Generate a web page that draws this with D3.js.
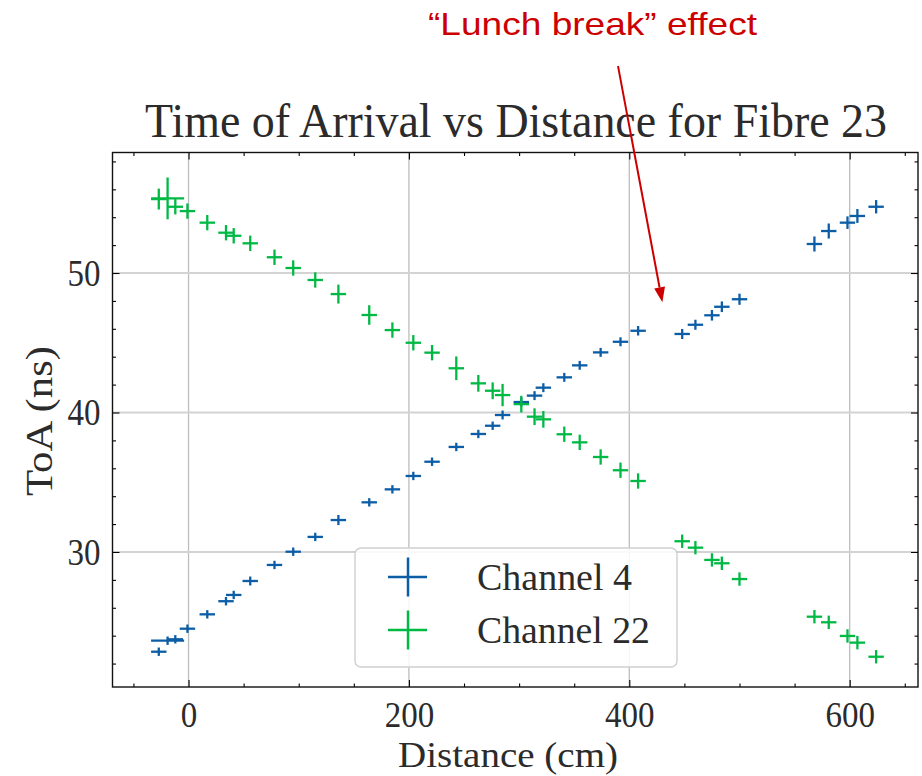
<!DOCTYPE html>
<html>
<head>
<meta charset="utf-8">
<script src="https://cdn.jsdelivr.net/npm/d3@7"></script>
<style>
  html, body { margin: 0; padding: 0; background: #ffffff; }
  svg { display: block; }
</style>
</head>
<body>
<svg id="chart" width="922" height="776"></svg>
<script>
// ---------------- data ----------------
const distance = [-27, -19, -12, -1, 17, 34, 41, 56, 78, 95, 115, 136, 164, 185, 204, 221, 243, 263, 276, 285,
                  302, 314, 322, 341, 355, 374, 392, 408, 448, 460, 475, 484, 500, 568, 581, 598, 607, 624];
const toaCh4  = [22.85, 23.64, 23.74, 24.50, 25.53, 26.47, 26.92, 27.92, 29.07, 30.02, 31.08, 32.29, 33.56, 34.49,
                 35.45, 36.47, 37.53, 38.46, 39.05, 39.82, 40.75, 41.21, 41.78, 42.52, 43.38, 44.31, 45.07, 45.86,
                 45.63, 46.29, 46.97, 47.58, 48.12, 52.08, 53.01, 53.61, 54.09, 54.75];
const toaCh22 = [55.30, 55.35, 54.75, 54.44, 53.61, 52.89, 52.67, 52.13, 51.13, 50.36, 49.50, 48.49, 46.99, 45.91,
                 45.00, 44.29, 43.17, 42.09, 41.56, 41.25, 40.60, 39.70, 39.51, 38.44, 37.86, 36.81, 35.86, 35.09,
                 30.77, 30.31, 29.43, 29.19, 28.06, 25.36, 24.96, 23.98, 23.50, 22.49];
const distErr = [7, 15, 7, 7, 7, 7, 7, 7, 7, 7, 7, 7, 7, 7, 7, 7, 7, 7, 7, 7,
                 7, 7, 7, 7, 7, 7, 7, 7, 7, 7, 7, 7, 7, 7, 7, 7, 7, 7];
const errCh4  = [0.30, 0.30, 0.30, 0.30, 0.30, 0.30, 0.30, 0.32, 0.30, 0.30, 0.30, 0.36, 0.30, 0.30,
                 0.30, 0.30, 0.30, 0.30, 0.30, 0.32, 0.32, 0.32, 0.32, 0.32, 0.32, 0.32, 0.32, 0.34,
                 0.36, 0.36, 0.38, 0.38, 0.40, 0.54, 0.54, 0.45, 0.50, 0.48];
const errCh22 = [0.75, 1.50, 0.55, 0.55, 0.55, 0.55, 0.55, 0.55, 0.55, 0.55, 0.55, 0.68, 0.70, 0.55,
                 0.55, 0.55, 0.85, 0.60, 0.60, 0.80, 0.60, 0.60, 0.60, 0.55, 0.55, 0.55, 0.55, 0.55,
                 0.48, 0.48, 0.48, 0.48, 0.48, 0.48, 0.48, 0.48, 0.48, 0.48];
const seriesNames = ["Channel 4", "Channel 22"];
const xTicksMajor = [0, 200, 400, 600];
const yTicksMajor = [30, 40, 50];
const titleText = "Time of Arrival vs Distance for Fibre 23";
const xLabelText = "Distance (cm)";
const yLabelText = "ToA (ns)";
const noteText = "\u201CLunch break\u201D effect";
const noteTarget = [430, 47.9];   // data coords of arrow tip

// ---------------- layout ----------------
const colors = ["#0C5DA5", "#00B945"];
const serif = "'Liberation Serif', 'Times New Roman', serif";
const sans = "'Liberation Sans', Arial, sans-serif";
const textCol = "#2b2b2b";
const L = 112.5, R = 918, T = 152.5, B = 687;

const svg = d3.select("#chart");
const x = d3.scaleLinear().domain([-69, 662]).range([L, R]);
const y = d3.scaleLinear().domain([20.32, 58.64]).range([B, T]);

const xMinor = d3.range(-50, 661, 50).filter(v => !xTicksMajor.includes(v));
const yMinor = d3.range(22, 58.6, 2).filter(v => !yTicksMajor.includes(v));

// grid
const grid = svg.append("g");
grid.selectAll("line.gx").data(xTicksMajor).join("line")
  .attr("x1", d => x(d)).attr("x2", d => x(d)).attr("y1", T).attr("y2", B)
  .attr("stroke", "#bdbdbd").attr("stroke-width", 1.3);
grid.selectAll("line.gy").data(yTicksMajor).join("line")
  .attr("x1", L).attr("x2", R).attr("y1", d => y(d)).attr("y2", d => y(d))
  .attr("stroke", "#d3d3d3").attr("stroke-width", 1.8);

// error bar data
const series = [
  { name: seriesNames[0], color: colors[0], pts: distance.map((d, i) => ({ x: d, y: toaCh4[i], xe: distErr[i], ye: errCh4[i] })) },
  { name: seriesNames[1], color: colors[1], pts: distance.map((d, i) => ({ x: d, y: toaCh22[i], xe: distErr[i], ye: errCh22[i] })) }
];

series.forEach(s => {
  const g = svg.append("g").attr("stroke", s.color).attr("stroke-width", 2.3);
  g.selectAll("line.h").data(s.pts).join("line").attr("class", "h")
    .attr("x1", d => x(d.x - d.xe)).attr("x2", d => x(d.x + d.xe))
    .attr("y1", d => y(d.y)).attr("y2", d => y(d.y));
  g.selectAll("line.v").data(s.pts).join("line").attr("class", "v")
    .attr("x1", d => x(d.x)).attr("x2", d => x(d.x))
    .attr("y1", d => y(d.y - d.ye)).attr("y2", d => y(d.y + d.ye));
});

// axes (inward ticks on all four sides)
function styleAxis(g) {
  g.select(".domain").remove();
  g.selectAll(".tick line").attr("stroke", "#000").attr("stroke-width", 1.1);
}
const fs = 37;
const axB = svg.append("g").attr("transform", `translate(0,${B})`)
  .call(d3.axisBottom(x).tickValues(xTicksMajor).tickSizeInner(-7).tickSizeOuter(0).tickFormat(d3.format("d")));
axB.call(styleAxis);
axB.selectAll(".tick text").attr("font-family", serif).attr("font-size", 36).attr("fill", textCol)
  .attr("y", 0).attr("dy", 40)
  .attr("textLength", function(d) { return String(d).length * 16.5; })
  .attr("lengthAdjust", "spacingAndGlyphs");
svg.append("g").attr("transform", `translate(0,${B})`)
  .call(d3.axisBottom(x).tickValues(xMinor).tickSizeInner(-3.5).tickSizeOuter(0).tickFormat(""))
  .call(styleAxis);
svg.append("g").attr("transform", `translate(0,${T})`)
  .call(d3.axisTop(x).tickValues(xTicksMajor).tickSizeInner(-7).tickSizeOuter(0).tickFormat(""))
  .call(styleAxis);
svg.append("g").attr("transform", `translate(0,${T})`)
  .call(d3.axisTop(x).tickValues(xMinor).tickSizeInner(-3.5).tickSizeOuter(0).tickFormat(""))
  .call(styleAxis);

const axL = svg.append("g").attr("transform", `translate(${L},0)`)
  .call(d3.axisLeft(y).tickValues(yTicksMajor).tickSizeInner(-7).tickSizeOuter(0).tickPadding(12).tickFormat(d3.format("d")));
axL.call(styleAxis);
axL.selectAll(".tick text").attr("font-family", serif).attr("font-size", fs).attr("fill", textCol)
  .attr("dy", 12.5)
  .attr("textLength", function(d) { return String(d).length * 16.5; })
  .attr("lengthAdjust", "spacingAndGlyphs");
svg.append("g").attr("transform", `translate(${L},0)`)
  .call(d3.axisLeft(y).tickValues(yMinor).tickSizeInner(-3.5).tickSizeOuter(0).tickFormat(""))
  .call(styleAxis);
svg.append("g").attr("transform", `translate(${R},0)`)
  .call(d3.axisRight(y).tickValues(yTicksMajor).tickSizeInner(-7).tickSizeOuter(0).tickFormat(""))
  .call(styleAxis);
svg.append("g").attr("transform", `translate(${R},0)`)
  .call(d3.axisRight(y).tickValues(yMinor).tickSizeInner(-3.5).tickSizeOuter(0).tickFormat(""))
  .call(styleAxis);

// frame
svg.append("rect").attr("x", L).attr("y", T).attr("width", R - L).attr("height", B - T)
  .attr("fill", "none").attr("stroke", "#111").attr("stroke-width", 1.4);

// legend
const lg = svg.append("g").attr("transform", "translate(355,548)");
lg.append("rect").attr("width", 322).attr("height", 119).attr("rx", 6)
  .attr("fill", "#fff").attr("fill-opacity", 0.85).attr("stroke", "#cfcfcf").attr("stroke-width", 1.4);
series.forEach((s, i) => {
  const cy = 29 + i * 53;
  lg.append("line").attr("x1", 33).attr("x2", 72).attr("y1", cy).attr("y2", cy)
    .attr("stroke", s.color).attr("stroke-width", 2.5);
  lg.append("line").attr("x1", 53).attr("x2", 53).attr("y1", cy - 19.5).attr("y2", cy + 19.5)
    .attr("stroke", s.color).attr("stroke-width", 2.5);
  lg.append("text").attr("x", 122).attr("y", cy + 13)
    .attr("font-family", serif).attr("font-size", fs).attr("fill", textCol)
    .attr("textLength", i === 0 ? 155 : 173).attr("lengthAdjust", "spacingAndGlyphs")
    .text(s.name);
});

// title & axis labels
svg.append("text").attr("x", 145).attr("y", 137)
  .attr("font-family", serif).attr("font-size", 48).attr("fill", textCol)
  .attr("textLength", 742).attr("lengthAdjust", "spacingAndGlyphs")
  .text(titleText);
svg.append("text").attr("x", 398).attr("y", 767)
  .attr("font-family", serif).attr("font-size", 36).attr("fill", textCol)
  .attr("textLength", 220).attr("lengthAdjust", "spacingAndGlyphs")
  .text(xLabelText);
svg.append("text").attr("transform", "translate(52,496) rotate(-90)")
  .attr("font-family", serif).attr("font-size", fs).attr("fill", textCol)
  .attr("textLength", 150).attr("lengthAdjust", "spacingAndGlyphs")
  .text(yLabelText);

// annotation
const red = "#cc0000";
svg.append("text").attr("x", 428).attr("y", 35)
  .attr("font-family", sans).attr("font-size", 32).attr("fill", red)
  .attr("textLength", 329).attr("lengthAdjust", "spacingAndGlyphs")
  .text(noteText);
const tip = [x(noteTarget[0]), y(noteTarget[1])];
const start = [618, 66];
const ang = Math.atan2(tip[1] - start[1], tip[0] - start[0]);
const headLen = 15, headW = 5.5;
const base = [tip[0] - headLen * Math.cos(ang), tip[1] - headLen * Math.sin(ang)];
svg.append("line").attr("x1", start[0]).attr("y1", start[1]).attr("x2", base[0]).attr("y2", base[1])
  .attr("stroke", red).attr("stroke-width", 2);
svg.append("path")
  .attr("d", d3.line()([
    tip,
    [base[0] + headW * Math.sin(ang), base[1] - headW * Math.cos(ang)],
    [base[0] - headW * Math.sin(ang), base[1] + headW * Math.cos(ang)]
  ]) + "Z")
  .attr("fill", red);
</script>
</body>
</html>
